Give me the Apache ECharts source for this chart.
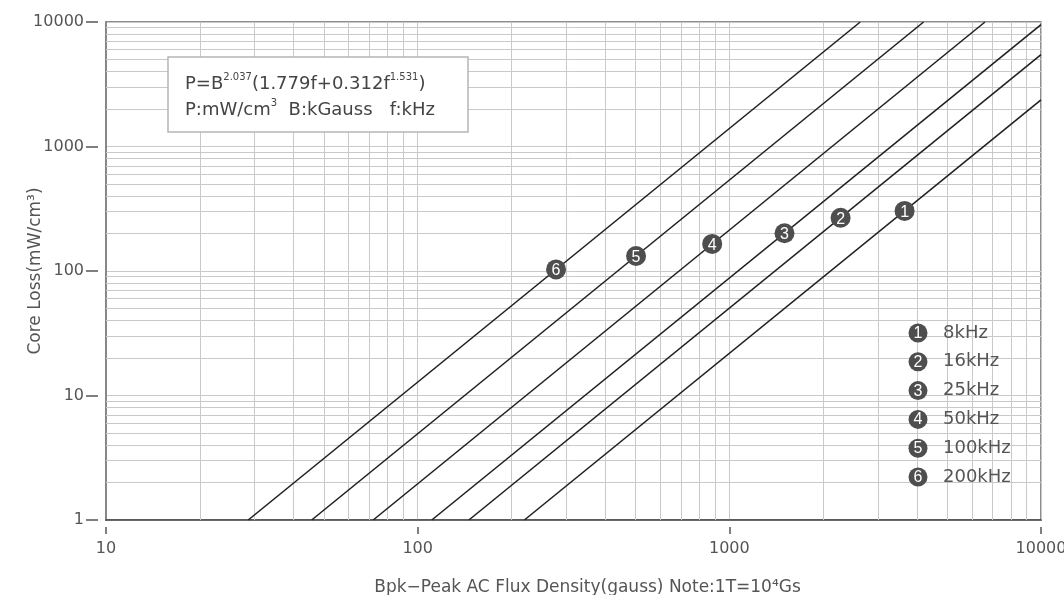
<!DOCTYPE html>
<html>
<head>
<meta charset="utf-8">
<script src="https://cdn.jsdelivr.net/npm/echarts@6/dist/echarts.min.js"></script>
<style>html,body{margin:0;padding:0;background:#fff}#c{width:1064px;height:595px}</style>
</head>
<body>
<div id="c"></div>
<script>
// ---- data ----
const lineNames = ['8kHz', '16kHz', '25kHz', '50kHz', '100kHz', '200kHz'];
const markerLabels = ['1', '2', '3', '4', '5', '6'];
// each line: [B(gauss), P(mW/cm3)] start and end points
const line8k   = [[220, 1], [10000, 2370]];
const line16k  = [[146, 1], [10000, 5470]];
const line25k  = [[111, 1], [10000, 9540]];
const line50k  = [[72, 1], [6610, 10000]];
const line100k = [[45.7, 1], [4200, 10000]];
const line200k = [[28.6, 1], [2630, 10000]];
// numbered markers on the lines
const markerPoints = [[3650, 304], [2275, 268], [1503, 201], [881, 165], [502, 132], [278, 103]];
// tick values
const xTicks = [10, 100, 1000, 10000];
const yTicks = [1, 10, 100, 1000, 10000];
const xMinorGrid = [20,30,40,50,60,70,80,90,200,300,400,500,600,700,800,900,2000,3000,4000,5000,6000,7000,8000,9000];
const yMinorGrid = [2,3,4,5,6,7,8,9,20,30,40,50,60,70,80,90,200,300,400,500,600,700,800,900,2000,3000,4000,5000,6000,7000,8000,9000];

const FONT = 'DejaVu Sans, sans-serif';
const NUMFONT = 'Liberation Sans, Arial, sans-serif';
const chart = echarts.init(document.getElementById('c'));
const lines = [line8k, line16k, line25k, line50k, line100k, line200k];

const gridMarkData = xMinorGrid.map(v => ({xAxis: v})).concat(yMinorGrid.map(v => ({yAxis: v})));

const series = [];
series.push({
  type: 'line', data: [], silent: true, z: 1,
  markLine: {
    silent: true, symbol: 'none', label: {show: false}, animation: false, z: 1,
    lineStyle: {color: '#c9c9c9', width: 1, type: 'solid'},
    data: gridMarkData
  }
});
lines.forEach((d, i) => {
  series.push({
    name: lineNames[i], type: 'line', data: d, showSymbol: false, symbol: 'none',
    lineStyle: {color: '#231f20', width: 1.6}, z: 10, animation: false
  });
});
series.push({
  type: 'scatter', z: 12, animation: false,
  data: markerPoints.map((p, i) => ({value: p, name: markerLabels[i]})),
  symbolSize: 20,
  itemStyle: {color: '#4e4e4e', opacity: 1},
  label: {show: true, position: 'inside', offset: [0, 1.5], formatter: p => p.name, color: '#fff', fontSize: 16, fontFamily: NUMFONT}
});

const legendGraphics = [];
lineNames.forEach((n, i) => {
  const y = 333 + i * 28.8;
  legendGraphics.push({type: 'circle', shape: {cx: 918, cy: y, r: 9.5}, style: {fill: '#4e4e4e'}, z: 30});
  legendGraphics.push({type: 'text', x: 918, y: y + 0.5, style: {text: markerLabels[i], fill: '#fff', font: '16px ' + NUMFONT, textAlign: 'center', textVerticalAlign: 'middle'}, z: 31});
  legendGraphics.push({type: 'text', x: 943, y: y, style: {text: n, fill: '#555', font: '18px ' + FONT, textAlign: 'left', textVerticalAlign: 'middle'}, z: 31});
});

const option = {
  animation: false,
  backgroundColor: '#fff',
  grid: {left: 106, right: 23, top: 22, bottom: 75, outerBoundsMode: 'none', containLabel: false,
    show: true, borderColor: '#6a6a6a', borderWidth: 1.5, backgroundColor: 'transparent'},
  xAxis: {
    type: 'log', logBase: 10, min: 10, max: 10000,
    name: 'Bpk\u2212Peak AC Flux Density(gauss) Note:1T=10\u2074Gs',
    nameLocation: 'middle', nameGap: 59,
    nameTextStyle: {color: '#555', fontSize: 17, fontFamily: FONT, padding: [0, 0, 0, 28]},
    axisLine: {show: true, lineStyle: {color: '#4a4a4a', width: 1.6}},
    axisTick: {show: true, length: 14, lineStyle: {color: '#555', width: 1.5, type: [7, 100], dashOffset: 100}},
    axisLabel: {color: '#555', fontSize: 16, fontFamily: FONT, margin: 21,
      formatter: v => xTicks.indexOf(Math.round(v)) >= 0 ? String(Math.round(v)) : ''},
    splitLine: {show: true, lineStyle: {color: '#c9c9c9', width: 1}},
    minorTick: {show: false}, minorSplitLine: {show: false}
  },
  yAxis: {
    type: 'log', logBase: 10, min: 1, max: 10000,
    name: 'Core Loss(mW/cm\u00b3)',
    nameLocation: 'middle', nameGap: 62, nameRotate: 90, nameMoveOverlap: false,
    nameTextStyle: {color: '#555', fontSize: 17, fontFamily: FONT},
    axisLine: {show: true, lineStyle: {color: '#888', width: 2}},
    axisTick: {show: true, length: 20, lineStyle: {color: '#555', width: 1.5, type: [12, 100], dashOffset: 104}},
    axisLabel: {color: '#555', fontSize: 16, fontFamily: FONT, margin: 22,
      formatter: v => yTicks.indexOf(Math.round(v)) >= 0 ? String(Math.round(v)) : ''},
    splitLine: {show: true, lineStyle: {color: '#c9c9c9', width: 1}},
    minorTick: {show: false}, minorSplitLine: {show: false}
  },
  graphic: [
    {type: 'rect', shape: {x: 168, y: 57, width: 300, height: 75}, style: {fill: '#fff', stroke: '#b5b5b5', lineWidth: 1.5}, z: 20},
    {type: 'text', x: 185, y: 84, z: 21, style: {
      text: 'P=B{s|2.037}(1.779f+0.312f{s|1.531})',
      fill: '#444', font: '18px ' + FONT, textVerticalAlign: 'middle',
      rich: {s: {fontSize: 10, fill: '#444', fontFamily: FONT, verticalAlign: 'top', lineHeight: 24}}
    }},
    {type: 'text', x: 185, y: 110, z: 21, style: {
      text: 'P:mW/cm{s|3}  B:kGauss   f:kHz',
      fill: '#444', font: '18px ' + FONT, textVerticalAlign: 'middle',
      rich: {s: {fontSize: 10, fill: '#444', fontFamily: FONT, verticalAlign: 'top', lineHeight: 24}}
    }}
  ].concat(legendGraphics),
  series: series
};
chart.setOption(option);
</script>
</body>
</html>
